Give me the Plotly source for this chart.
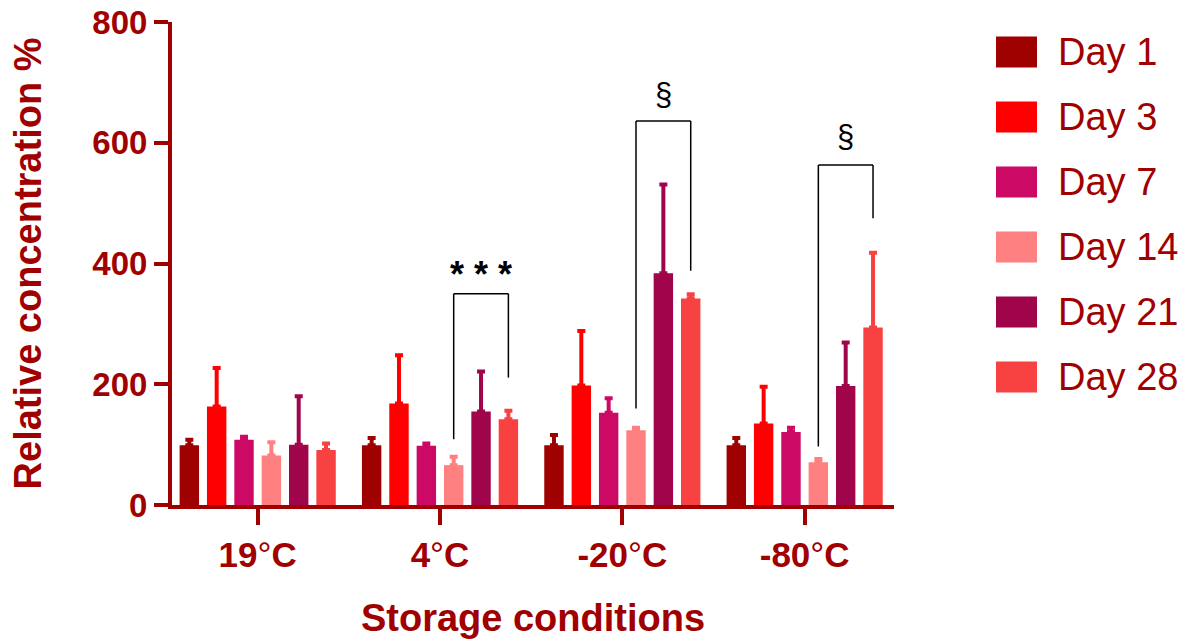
import plotly.graph_objects as go

# ---------------- data ----------------
DEG = "<span style='font-weight:normal'>\u00b0</span>"
conditions = ["19" + DEG + "C", "4" + DEG + "C", "-20" + DEG + "C", "-80" + DEG + "C"]
days = ["Day 1", "Day 3", "Day 7", "Day 14", "Day 21", "Day 28"]
colors = ["#9f0000", "#ff0000", "#cc0a66", "#ff8080", "#a0054c", "#f84242"]

day1 = [99, 99, 99, 99]
day3 = [163, 168, 198, 135]
day7 = [108, 98, 153, 121]
day14 = [82, 66, 124, 71]
day21 = [100, 155, 384, 197]
day28 = [91, 142, 342, 294]

err1 = [9, 12, 17, 12]
err3 = [64, 80, 90, 61]
err7 = [5, 4, 24, 7]
err14 = [22, 14, 4, 5]
err21 = [80, 66, 147, 72]
err28 = [11, 14, 7, 124]

values = [day1, day3, day7, day14, day21, day28]
errors = [err1, err3, err7, err14, err21, err28]

# significance brackets
bracket_groups = [1, 2, 3]
bracket_top = [350, 636, 563]
bracket_left_end = [109, 160, 97]
bracket_right_end = [211, 388, 475]
bracket_labels = ["* * *", "\u00a7", "\u00a7"]
bracket_label_y = [382, 680, 610]
bracket_from, bracket_to = 3, 5

y_ticks = [0, 200, 400, 600, 800]

AX = "#a00000"
FONT = "Liberation Sans, Arial, sans-serif"

fig = go.Figure()
for name, vals, errs, col in zip(days, values, errors, colors):
    fig.add_trace(go.Bar(
        x=conditions, y=vals, name=name,
        marker=dict(color=col, line=dict(width=0)),
        error_y=dict(type="data", array=errs, arrayminus=[0] * len(errs),
                     symmetric=False, color=col, thickness=4, width=4),
        showlegend=False,
    ))

# plot-area geometry (pixels)
L, R, T, B = 172, 295, 22, 135
W, H = 1189, 640
pw, ph = W - L - R, H - T - B

slot = (1 - 0.1) / len(days)
shapes = []
annotations = []
for g, top, le, re_, lab, ly in zip(bracket_groups, bracket_top, bracket_left_end,
                                     bracket_right_end, bracket_labels, bracket_label_y):
    x0 = g + (bracket_from - (len(days) - 1) / 2) * slot
    x1 = g + (bracket_to - (len(days) - 1) / 2) * slot
    line = dict(color="black", width=1.5)
    shapes.append(dict(type="line", xref="x", yref="y", x0=x0, x1=x0, y0=le, y1=top, line=line))
    shapes.append(dict(type="line", xref="x", yref="y", x0=x0, x1=x1, y0=top, y1=top, line=line))
    shapes.append(dict(type="line", xref="x", yref="y", x0=x1, x1=x1, y0=top, y1=re_, line=line))
    bold = lab.startswith("*")
    annotations.append(dict(
        x=(x0 + x1) / 2, y=ly, xref="x", yref="y", text=lab, showarrow=False,
        font=dict(family=FONT, size=36 if bold else 31, color="black",
                  weight="bold" if bold else "normal"),
    ))

# manual legend with large swatches
for i, (name, col) in enumerate(zip(days, colors)):
    cy = 52 + 65 * i
    px0, px1 = 996, 1037
    shapes.append(dict(
        type="rect", xref="paper", yref="paper",
        x0=(px0 - L) / pw, x1=(px1 - L) / pw,
        y0=(H - B - (cy + 15.5)) / ph, y1=(H - B - (cy - 15.5)) / ph,
        fillcolor=col, line=dict(width=0),
    ))
    annotations.append(dict(
        x=(1056 - L) / pw, y=(H - B - cy) / ph, xref="paper", yref="paper",
        xanchor="left", yanchor="middle", text=name, showarrow=False,
        font=dict(family=FONT, size=38, color=AX),
    ))

fig.update_layout(
    width=W, height=H,
    margin=dict(l=L, r=R, t=T, b=B),
    plot_bgcolor="white", paper_bgcolor="white",
    barmode="group", bargap=0.1, bargroupgap=0.29,
    shapes=shapes, annotations=annotations,
    font=dict(family=FONT, color=AX),
    xaxis=dict(
        range=[-0.47, 3.49], showline=True, linecolor=AX, linewidth=4,
        ticks="outside", ticklen=16, tickwidth=4, tickcolor=AX,
        tickfont=dict(family=FONT, size=35, color=AX, weight="bold"),
        showgrid=False, zeroline=False, automargin=False,
        title=dict(text="Storage conditions", standoff=32,
                   font=dict(family=FONT, size=38, color=AX, weight="bold")),
    ),
    yaxis=dict(
        range=[0, 800], tickvals=y_ticks, showline=True, linecolor=AX, linewidth=4,
        ticks="outside", ticklen=14, tickwidth=4, tickcolor=AX,
        tickfont=dict(family=FONT, size=33, color=AX, weight="bold"),
        showgrid=False, zeroline=False, automargin=False,
        title=dict(text="Relative concentration %", standoff=40,
                   font=dict(family=FONT, size=38, color=AX, weight="bold")),
    ),
)

fig.write_html("out.html")
